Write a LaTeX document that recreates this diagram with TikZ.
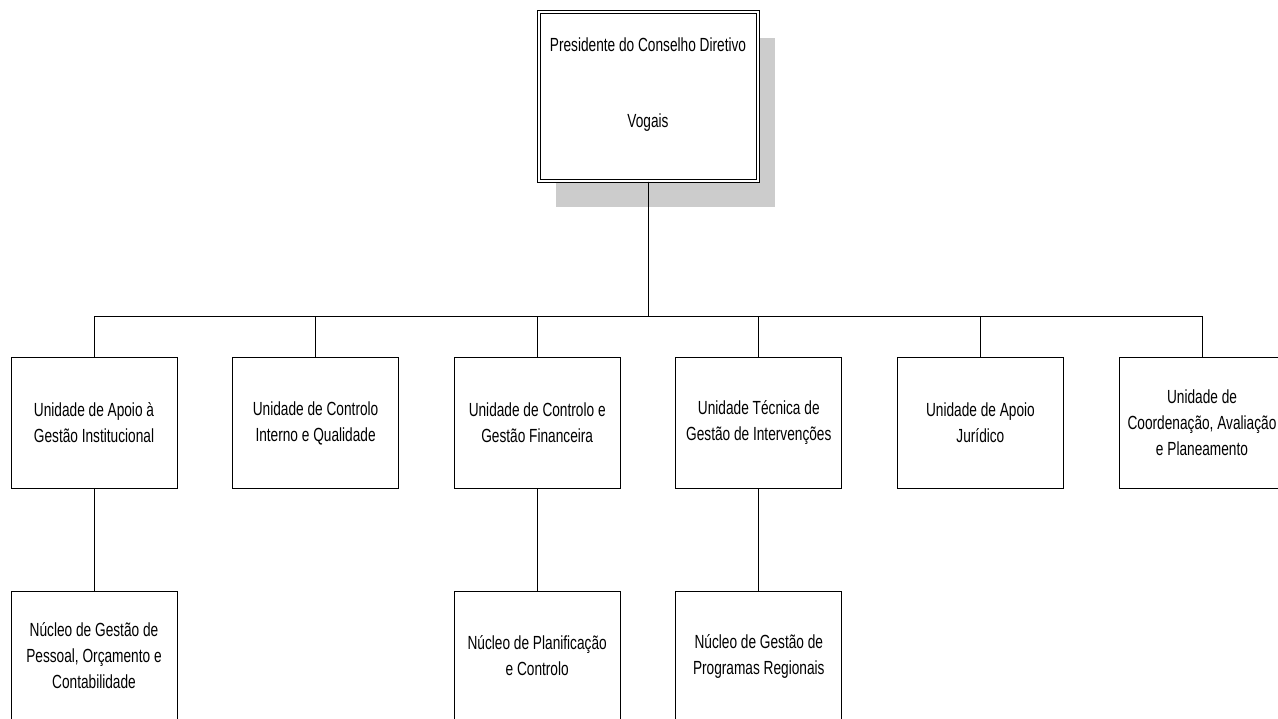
\documentclass[tikz,border=0pt]{standalone}
\usepackage{fontspec}
\setmainfont{Liberation Sans}[FakeStretch=0.72]
\usetikzlibrary{trees}
\usetikzlibrary{shadows}

\begin{document}
\begin{tikzpicture}[x=1pt, y=1pt, line width=1pt,
  font=\fontsize{19}{26}\selectfont,
  parent anchor=south, child anchor=north,
  topbox/.style={draw, double, double distance=2pt, fill=white,
    minimum width=219pt, minimum height=169pt,
    drop shadow={shadow xshift=17pt, shadow yshift=-26pt, fill=black!20, opacity=1}},
  unit/.style={draw, fill=white, minimum width=166pt, minimum height=130pt,
    text width=158pt, align=flush center, inner sep=0pt},
  level 1/.style={sibling distance=221.6pt, level distance=326pt,
    edge from parent path={(\tikzparentnode.south) -- ++(0,-135) -| (\tikzchildnode.north)}},
  level 2/.style={level distance=233pt,
    edge from parent path={(\tikzparentnode.south) -- (\tikzchildnode.north)}}]
%%% organigrama %%%

      \clip (0,0) rectangle (1278,-719);

      \node[topbox,
        label={[name=presLbl, yshift=52pt]center:Presidente do Conselho Diretivo},
        label={[name=vogLbl, yshift=-26pt]center:Vogais}] (pres) at (648,-97) {}
      %%
      child
      {
        node[unit] (apoio) {Unidade de Apoio à\\ Gestão Institucional}
        %
        child {node[unit] (pessoal) {Núcleo de Gestão de\\ Pessoal, Orçamento e\\ Contabilidade}}
      }
      %%
      child {node[unit] (qualidade) {Unidade de Controlo\\ Interno e Qualidade}}
      %%
      child
      {
        node[unit] (financeira) {Unidade de Controlo e\\ Gestão Financeira}
        %
        child {node[unit] (planif) {Núcleo de Planificação\\ e Controlo}}
      }
      %%
      child
      {
        node[unit] (tecnica) {Unidade Técnica de\\ Gestão de Intervenções}
        %
        child {node[unit] (regionais) {Núcleo de Gestão de\\ Programas Regionais}}
      }
      %%
      child {node[unit] (juridico) {Unidade de Apoio\\ Jurídico}}
      %%
      child {node[unit] (coord) {Unidade de\\ Coordenação, Avaliação\\ e Planeamento}}
      ;

\end{tikzpicture}
\end{document}
